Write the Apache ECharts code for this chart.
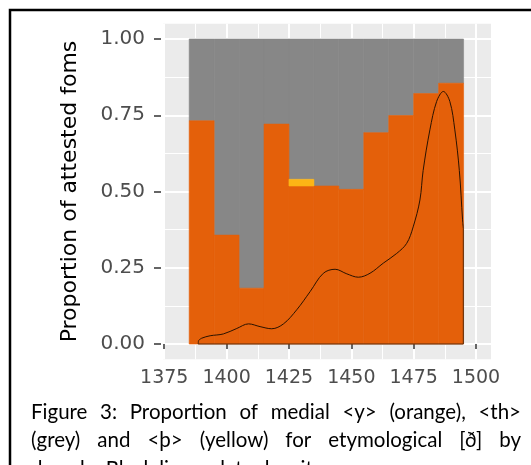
<!DOCTYPE html>
<html>
<head>
<meta charset="utf-8">
<script src="https://cdn.jsdelivr.net/npm/echarts@6/dist/echarts.min.js"></script>
<style>
    html, body { margin: 0; padding: 0; background: #fff; }
    #chart { width: 531px; height: 465px; }
</style>
</head>
<body>
<div id="chart"></div>
<script>
    // decade bars (centre year), share of each spelling
    var decades = [1390, 1400, 1410, 1420, 1430, 1440, 1450, 1460, 1470, 1480, 1490];
    var orangeShare = [0.732, 0.357, 0.183, 0.721, 0.518, 0.518, 0.507, 0.693, 0.749, 0.821, 0.855];
    var yellowShare = [0, 0, 0, 0, 0.022, 0, 0, 0, 0, 0, 0];

    // black density line
    var densityYears = [1388.6, 1388.7, 1390, 1393.4, 1398.7, 1404.1, 1408.8, 1413.4, 1418.1, 1422.8, 1428.1,
        1433.5, 1438.8, 1443.5, 1448.2, 1452.8, 1457.5, 1462.8, 1468.2, 1472.2, 1474.8, 1477.5,
        1478.8, 1481.5, 1484.2, 1486.9, 1489.5, 1491.5, 1493.3, 1494.6, 1494.9];
    var densityValues = [0, 0.011, 0.019, 0.027, 0.033, 0.051, 0.066, 0.057, 0.050, 0.066, 0.112,
        0.172, 0.232, 0.245, 0.230, 0.219, 0.232, 0.265, 0.297, 0.330, 0.384, 0.472,
        0.569, 0.702, 0.795, 0.828, 0.795, 0.702, 0.569, 0.407, 0.38];

    var xTicks = [1375, 1400, 1425, 1450, 1475, 1500];
    var xMinorTicks = [1387.5, 1412.5, 1437.5, 1462.5, 1487.5];
    var yTicks = [0, 0.25, 0.5, 0.75, 1];
    var yTickLabels = ['0.00', '0.25', '0.50', '0.75', '1.00'];
    var yMinorTicks = [0.125, 0.375, 0.625, 0.875];

    var yTitle = 'Proportion of attested foms';
    var captionLines = [
        'Figure 3: Proportion of medial <y> (orange), <th>',
        '(grey) and <þ> (yellow) for etymological [ð] by',
        'decade. Black line = data density.'
    ];

    var chart = echarts.init(document.getElementById('chart'));

    var orangeTop = orangeShare;
    var yellowTop = orangeShare.map(function (o, i) { return o + yellowShare[i]; });

    function blockData(lows, highs) {
        var out = [];
        decades.forEach(function (d, i) {
            if (highs[i] > lows[i]) out.push([d, lows[i], highs[i]]);
        });
        return out;
    }

    function blockSeries(name, data, color) {
        return {
            name: name,
            type: 'custom',
            silent: true,
            encode: { x: 0, y: [1, 2] },
            renderItem: function (params, api) {
                var lo = api.coord([api.value(0) - 5, api.value(1)]);
                var hi = api.coord([api.value(0) + 5, api.value(2)]);
                return {
                    type: 'rect',
                    shape: { x: lo[0], y: hi[1], width: hi[0] - lo[0], height: lo[1] - hi[1] },
                    style: { fill: color, stroke: color, lineWidth: 0.6 }
                };
            },
            data: data
        };
    }

    var densityCurve = densityYears.slice(1).map(function (x, i) { return [x, densityValues[i + 1]]; });
    var last = densityYears.length - 1;
    var densityEdge = [
        [densityYears[1], densityValues[1]],
        [densityYears[0], densityValues[0]],
        [densityYears[last], 0],
        [densityYears[last], densityValues[last]]
    ];

    // caption, justified like the document text
    var captionFont = 'Lato';
    var captionSize = 20.5;
    var ctx = document.createElement('canvas').getContext('2d');
    ctx.font = captionSize + 'px ' + captionFont;
    var captionItems = [];
    captionLines.forEach(function (line, li) {
        var words = line.split(' ');
        var widths = words.map(function (w) { return ctx.measureText(w).width; });
        var total = widths.reduce(function (a, b) { return a + b; }, 0);
        var left = 31, right = 521;
        var justify = li < captionLines.length - 1;
        var gap = justify ? (right - left - total) / (words.length - 1) : ctx.measureText(' ').width;
        var x = left;
        words.forEach(function (w, i) {
            captionItems.push({
                type: 'text',
                x: x,
                y: 412 + li * 28.5,
                style: { text: w, fill: '#000', fontSize: captionSize, fontFamily: captionFont, verticalAlign: 'middle' }
            });
            x += widths[i] + gap;
        });
    });

    chart.setOption({
        animation: false,
        grid: {
            left: 163,
            top: 23.75,
            width: 328,
            height: 335.5,
            show: true,
            backgroundColor: '#EBEBEB',
            borderWidth: 0
        },
        xAxis: [
            {
                type: 'value',
                min: 1374.5,
                max: 1506,
                offset: 1,
                axisLine: { show: false },
                axisTick: { customValues: xTicks, length: 5, lineStyle: { color: '#333', width: 1.5 } },
                axisLabel: {
                    customValues: xTicks,
                    color: '#4D4D4D',
                    fontSize: 19,
                    fontFamily: 'DejaVu Sans',
                    margin: 8,
                    formatter: function (v) { return String(v); }
                },
                splitLine: { show: true, lineStyle: { color: '#fff', width: 2 } }
            },
            {
                type: 'value',
                min: 1374.5,
                max: 1506,
                axisLine: { show: false },
                axisTick: { show: false, customValues: xMinorTicks },
                axisLabel: { show: false, customValues: xMinorTicks },
                splitLine: { show: true, lineStyle: { color: '#fff', width: 1 } }
            }
        ],
        yAxis: [
            {
                type: 'value',
                min: -0.05,
                max: 1.05,
                offset: 2,
                axisLine: { show: false },
                axisTick: { show: true, customValues: yTicks, length: 7, lineStyle: { color: '#333', width: 1.5 } },
                axisLabel: {
                    customValues: yTicks,
                    color: '#4D4D4D',
                    fontSize: 20,
                    fontFamily: 'DejaVu Sans',
                    margin: 16,
                    formatter: function (v) { return yTickLabels[yTicks.indexOf(v)]; }
                },
                splitLine: { show: true, lineStyle: { color: '#fff', width: 2 } },
                name: yTitle,
                nameLocation: 'middle',
                nameRotate: 90,
                nameGap: 80,
                nameTextStyle: { color: '#000', fontSize: 22, fontFamily: 'DejaVu Sans' }
            },
            {
                type: 'value',
                min: -0.05,
                max: 1.05,
                axisLine: { show: false },
                axisTick: { show: false, customValues: yMinorTicks },
                axisLabel: { show: false, customValues: yMinorTicks },
                splitLine: { show: true, lineStyle: { color: '#fff', width: 1 } }
            }
        ],
        series: [
            blockSeries('th', blockData(yellowTop, decades.map(function () { return 1; })), '#878787'),
            blockSeries('y', blockData(decades.map(function () { return 0; }), orangeTop), '#E4600A'),
            blockSeries('þ', blockData(orangeTop, yellowTop), '#FDB515'),
            {
                name: 'density',
                type: 'line',
                smooth: 0.35,
                symbol: 'none',
                silent: true,
                lineStyle: { color: '#2a1200', width: 1 },
                data: densityCurve,
                z: 5
            },
            {
                name: 'density edge',
                type: 'line',
                symbol: 'none',
                silent: true,
                lineStyle: { color: '#5a2a08', width: 1 },
                data: densityEdge,
                z: 5
            }
        ],
        graphic: [
            {
                type: 'rect',
                shape: { x: 10, y: 10, width: 540, height: 480 },
                style: { fill: null, stroke: '#000', lineWidth: 2.5 },
                silent: true
            },
            { type: 'group', children: captionItems }
        ]
    });
</script>
</body>
</html>
